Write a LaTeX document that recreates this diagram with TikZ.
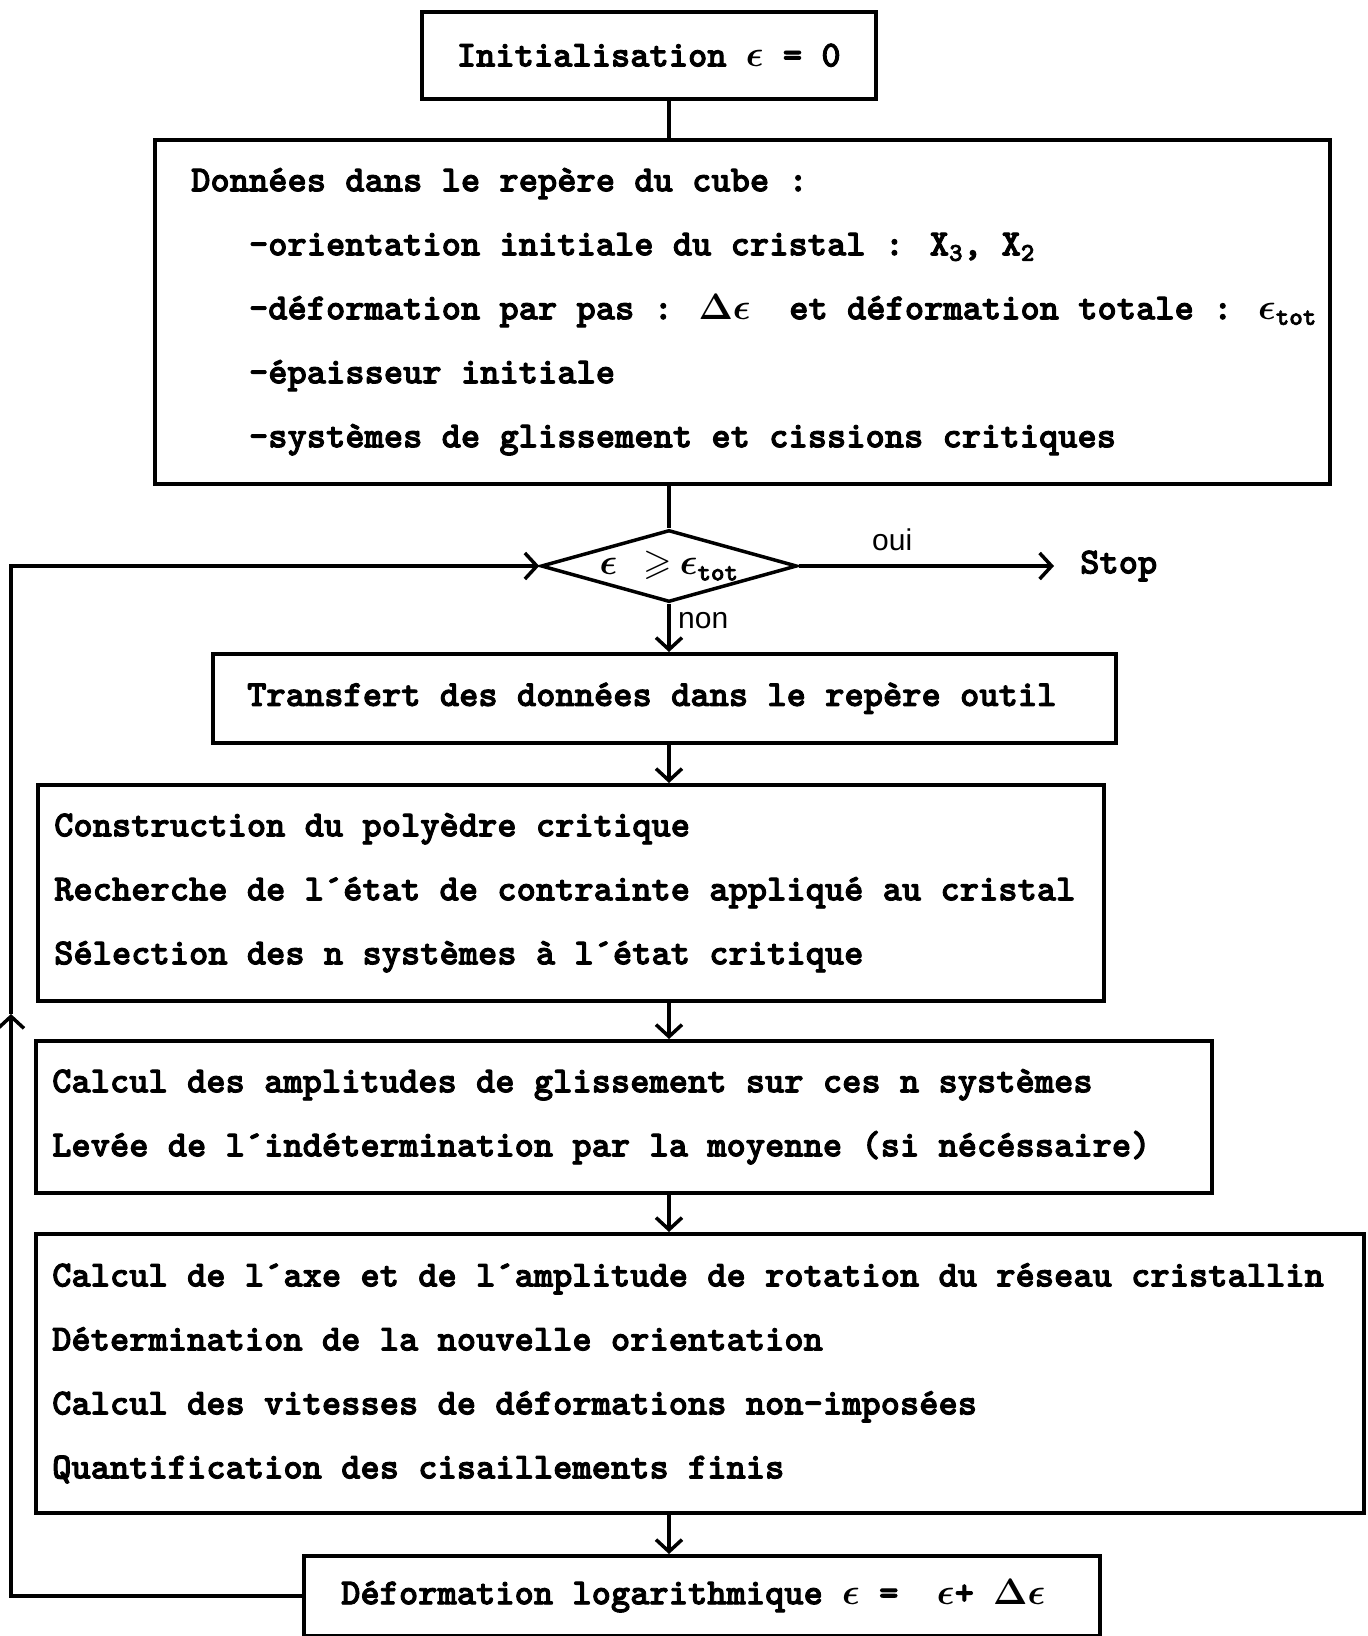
\documentclass[tikz,border=0pt]{standalone}
\usepackage{fix-cm}
\usepackage{amsmath,amssymb}
\usepackage{fontspec}
\newfontfamily\sanslab{Liberation Sans}
\newfontfamily\bmono{lmmonolt10-bold.otf}[FakeBold=2.5]
\usetikzlibrary{shapes.geometric,arrows.meta}
\newcommand{\eps}{\boldsymbol{\epsilon}}
\newcommand{\Del}{\boldsymbol{\Delta}}
\newcommand{\tot}{_{\text{\bmono\bfseries tot}}}
\newcommand{\ind}{\hspace*{57.8pt}}
\begin{document}
\begin{tikzpicture}[x=1pt,y=-1pt,
  every node/.style={font=\fontsize{36.7}{64}\selectfont\bmono\bfseries},
  box/.style={draw, line width=3.5pt, rectangle, anchor=north west, inner sep=0pt},
  txt/.style={inner sep=0pt, align=left, anchor=west},
  conn/.style={line width=3.5pt},
  arr/.style={conn, -{Straight Barb[length=12pt,width=26pt]}},
  lab/.style={font=\sanslab\fontsize{30}{36}\selectfont, inner sep=0pt, anchor=base west}
]
\useasboundingbox (0,0) rectangle (1368,1636);

% boxes
\node[box, minimum width=454pt, minimum height=87pt] (init) at (420,10) {Initialisation $\eps$ = 0};
\node[box, minimum width=1175pt, minimum height=344pt] (don) at (153,138) {};
\node[draw, diamond, line width=3.5pt, minimum width=256pt, minimum height=72pt,
      inner sep=0pt, shape aspect=3.6] (dia) at (669,566)
      {$\eps$\hspace{26pt}$\geqslant$\hspace{8pt}$\eps\tot$};
\node[box, minimum width=903pt, minimum height=89pt] (tr) at (211,652) {};
\node[box, minimum width=1066pt, minimum height=216pt] (con) at (36,783) {};
\node[box, minimum width=1176pt, minimum height=152pt] (cal) at (34,1039) {};
\node[box, minimum width=1328pt, minimum height=279pt] (cax) at (34,1232) {};
\node[box, minimum width=796pt, minimum height=80pt] (def) at (302,1554) {};

% texts
\node[txt] (dontxt) at ([xshift=38pt]don.west) {Données dans le repère du cube :\\
\ind-orientation initiale du cristal : X\textsubscript{3}, X\textsubscript{2}\\
\ind-déformation par pas : $\Del\eps$\ \ et déformation totale : $\eps\tot$\\
\ind-épaisseur initiale\\
\ind-systèmes de glissement et cissions critiques};
\node[txt] (trtxt) at ([xshift=36pt]tr.west) {Transfert des données dans le repère outil};
\node[txt] (contxt) at ([xshift=18pt]con.west) {Construction du polyèdre critique\\
Recherche de l´état de contrainte appliqué au cristal\\
Sélection des n systèmes à l´état critique};
\node[txt] (caltxt) at ([xshift=18pt]cal.west) {Calcul des amplitudes de glissement sur ces n systèmes\\
Levée de l´indétermination par la moyenne (si nécéssaire)};
\node[txt] (caxtxt) at ([xshift=18pt]cax.west) {Calcul de l´axe et de l´amplitude de rotation du réseau cristallin\\
Détermination de la nouvelle orientation\\
Calcul des vitesses de déformations non-imposées\\
Quantification des cisaillements finis};
\node[txt] (deftxt) at ([xshift=39pt]def.west) {Déformation logarithmique $\eps$ =\ \ $\eps$+ $\Del\eps$};

% stop and labels
\node[anchor=west, inner xsep=26pt, inner ysep=0pt] (stop) at (1054,566) {Stop};
\node[lab] (oui) at (872,550) {oui};
\node[lab] (non) at (678,628) {non};

% connectors
\draw[conn] (init.south -| dia.north) -- (don.north -| dia.north);
\draw[conn] (don.south -| dia.north) -- (dia.north);
\draw[arr] (dia.south) -- (tr.north -| dia.south);
\draw[arr] (tr.south -| dia.south) -- (con.north -| dia.south);
\draw[arr] (con.south -| dia.south) -- (cal.north -| dia.south);
\draw[arr] (cal.south -| dia.south) -- (cax.north -| dia.south);
\draw[arr] (cax.south -| dia.south) -- (def.north -| dia.south);
\draw[arr] (dia.east) -- (stop.west);

% loop back
\coordinate (lpB) at (11,1014);
\draw[arr] (def.west) -| (lpB);
\draw[arr] (lpB) |- (dia.west);
\end{tikzpicture}
\end{document}
